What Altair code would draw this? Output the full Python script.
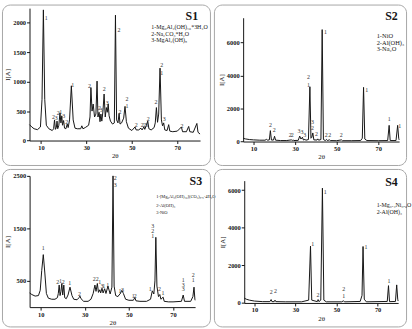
import altair as alt
import pandas as pd

SERIF = "Liberation Serif"
INK = "#151515"

# ---------------- S1 ----------------
s1_theta = [5.0, 6.0, 7.0, 8.5, 9.8, 10.5, 11.1, 11.7, 12.4, 13.5, 15.0, 15.6, 16.0, 16.4, 16.8,
            17.1, 17.4, 17.9, 18.4, 18.8, 19.2, 19.5, 20.0, 20.4, 21.0, 21.6, 22.0, 22.6, 23.4,
            24.2, 25.0, 26.0, 27.5, 28.0, 28.5, 29.5, 31.0, 31.6, 32.0, 32.5, 33.0, 33.6, 34.2,
            34.7, 35.1, 35.6, 36.0, 36.4, 36.8, 37.3, 37.8, 38.3, 38.8, 39.2, 39.6, 40.0, 40.6,
            41.5, 42.3, 42.8, 43.3, 43.9, 44.4, 44.8, 45.5, 46.4, 47.0, 47.6, 48.5, 50.0, 51.4,
            51.9, 53.0, 54.0, 54.5, 55.3, 55.7, 56.4, 57.0, 57.5, 58.5, 59.8, 60.3, 60.8, 61.3,
            61.8, 62.4, 63.0, 63.5, 64.0, 64.5, 65.5, 66.2, 66.7, 68.0, 70.0, 71.8, 72.3, 74.0,
            75.0, 75.5, 77.0, 78.6, 79.1, 80.0]
s1_counts = [270, 230, 200, 185, 230, 700, 2220, 700, 260, 200, 170, 200, 350, 190, 220,
             330, 200, 260, 470, 300, 420, 260, 340, 210, 200, 280, 220, 350, 930,
             350, 210, 200, 200, 250, 200, 220, 260, 400, 900, 500, 620, 400, 450,
             1010, 400, 480, 320, 450, 330, 500, 790, 400, 560, 480, 620, 420, 330,
             280, 300, 2130, 350, 300, 460, 280, 300, 380, 580, 320, 210, 170, 230,
             180, 180, 210, 180, 230, 190, 260, 330, 200, 180, 220, 300, 560, 310,
             450, 1230, 350, 250, 300, 180, 170, 270, 160, 150, 160, 230, 150, 150,
             240, 150, 140, 290, 140, 110]
s1_lab_theta = [12.3, 31.4, 24.0, 15.5, 16.7, 17.6, 18.7, 20.0, 21.4, 35.8, 36.5, 37.9, 39.2,
                44.3, 44.8, 47.9, 47.9, 51.9, 54.6, 55.6, 56.4, 57.2, 60.6, 63.1, 63.1, 64.2, 72.0]
s1_lab_counts = [2080, 920, 940, 400, 380, 470, 490, 410, 310, 560, 510, 880, 640,
                 1870, 480, 700, 580, 260, 270, 270, 270, 370, 650, 1290, 1150, 360, 250]
s1_lab_phase = ["1", "2", "1", "2", "3", "2", "1", "3", "2", "2", "3", "2", "3",
                "2", "2", "2", "1", "2", "2", "2", "3", "2", "2", "2", "1", "3", "2"]
s1_legend = ["1-Mg₆Al₂(OH)₁₆*3H₂O", "2-Na₂CO₃*H₂O", "3-MgAl₂(OH)₈"]

# ---------------- S2 ----------------
s2_theta = [5.0, 6.0, 8.0, 10.0, 13.0, 15.5, 16.3, 16.8, 17.6, 18.1, 18.6, 19.6, 20.1, 20.6,
            23.0, 26.0, 28.2, 28.6, 29.0, 29.4, 31.5, 32.2, 32.8, 33.5, 34.0, 34.7, 35.2, 36.4,
            37.1, 37.6, 38.0, 38.5, 39.0, 40.5, 40.9, 41.3, 42.4, 43.0, 43.6, 44.5, 45.1, 45.5,
            46.5, 46.9, 50.0, 52.3, 52.7, 57.0, 61.5, 62.3, 62.9, 63.5, 64.5, 70.0, 74.5, 75.2,
            75.7, 78.5, 79.3, 79.8, 80.0]
s2_counts = [200, 160, 120, 100, 80, 80, 130, 80, 100, 660, 90, 90, 320, 80,
             60, 60, 100, 60, 100, 60, 70, 330, 150, 260, 90, 130, 80, 120,
             3320, 200, 250, 520, 100, 90, 160, 80, 120, 6780, 120, 60, 130, 60,
             100, 60, 50, 100, 50, 50, 60, 200, 3280, 150, 60, 50, 60, 980,
             60, 60, 980, 200, 100]
s2_lab_theta = [18.1, 20.0, 27.6, 28.6, 31.9, 33.3, 34.6, 36.4, 36.4, 38.4, 38.4, 40.3,
                44.6, 45.0, 46.6, 52.2, 64.4, 75.2, 80.3]
s2_lab_counts = [1000, 720, 400, 400, 640, 580, 420, 3900, 3440, 1200, 820, 440,
                 6620, 420, 400, 420, 3120, 1380, 950]
s2_lab_phase = ["2", "2", "2", "2", "3", "3", "3", "2", "1", "3", "2", "2",
                "1", "2", "2", "2", "1", "1", "1"]
s2_legend = ["1-NiO", "2-Al(OH)₃", "3-Na₂O"]

# ---------------- S3 ----------------
s3_theta = [5.0, 6.0, 7.5, 9.0, 9.8, 10.5, 11.2, 11.9, 12.6, 13.5, 15.0, 16.5, 17.6, 18.0,
            18.4, 18.8, 19.2, 19.6, 20.0, 20.5, 20.9, 21.6, 22.4, 23.3, 24.2, 25.0, 26.5, 27.4,
            27.8, 28.3, 29.5, 31.5, 32.8, 33.8, 34.6, 35.1, 35.7, 36.2, 36.8, 37.2, 37.8, 38.3,
            39.0, 39.6, 40.5, 41.5, 42.3, 42.8, 43.3, 44.0, 45.0, 45.5, 46.0, 46.8, 47.5, 48.5,
            50.0, 52.0, 52.7, 53.2, 55.0, 58.0, 59.8, 60.6, 61.3, 61.8, 62.2, 62.7, 63.4, 64.0,
            64.5, 65.5, 66.0, 68.0, 70.0, 73.8, 74.6, 75.2, 78.0, 79.0, 79.5, 79.9, 80.0]
s3_counts = [270, 240, 210, 220, 320, 700, 1000, 650, 260, 170, 150, 150, 180, 260,
             420, 220, 300, 450, 230, 420, 180, 160, 230, 380, 220, 150, 140, 180,
             210, 160, 110, 110, 150, 260, 420, 300, 450, 280, 330, 270, 360, 270,
             350, 260, 400, 250, 380, 2500, 400, 220, 200, 230, 250, 320, 260, 150,
             130, 130, 180, 120, 110, 110, 150, 310, 250, 500, 1330, 400, 200, 240,
             150, 190, 110, 100, 100, 110, 230, 110, 110, 200, 380, 150, 130]
s3_lab_theta = [11.2, 17.8, 19.0, 20.2, 23.2, 27.6, 34.3, 35.6, 36.8, 37.8, 38.6, 40.4,
                43.8, 43.8, 45.9, 47.1, 52.0, 52.9, 59.7, 60.8, 60.8, 60.8, 63.9, 65.4,
                74.6, 74.6, 74.6, 79.2, 79.2]
s3_lab_counts = [1120, 470, 500, 480, 460, 250, 530, 540, 470, 400, 400, 420,
                 2450, 2320, 310, 320, 220, 220, 340, 1550, 1450, 1350, 340, 260,
                 520, 430, 340, 620, 520]
s3_lab_phase = ["1", "2", "1", "2", "1", "2", "2", "2", "1", "3", "1", "1",
                "2", "3", "1", "3", "1", "2", "1", "3", "2", "1", "2", "1",
                "1", "3", "3", "2", "1"]
s3_legend = ["1-[Mg₆Al₂(OH)₁₆](CO₃)₀.₅·4H₂O", "2-Al(OH)₃", "3-NiO"]

# ---------------- S4 ----------------
s4_theta = [5.0, 6.0, 7.5, 10.0, 14.0, 17.5, 18.1, 18.5, 19.6, 20.0, 20.4, 25.0, 33.0, 36.4,
            37.3, 37.9, 40.6, 41.0, 41.4, 42.3, 43.1, 43.8, 45.0, 52.5, 53.3, 54.0, 61.5, 62.4,
            62.9, 63.5, 64.5, 74.7, 75.3, 75.8, 78.7, 79.3, 79.8, 80.0]
s4_counts = [260, 200, 150, 100, 70, 70, 180, 70, 70, 150, 70, 60, 60, 150,
             3020, 150, 70, 180, 70, 150, 6100, 150, 60, 60, 110, 60, 80, 400,
             3000, 200, 60, 80, 920, 70, 80, 960, 200, 100]
s4_lab_theta = [18.1, 20.2, 38.4, 41.0, 44.5, 53.5, 53.5, 64.3, 75.6]
s4_lab_counts = [560, 610, 3140, 400, 5910, 750, 380, 2980, 1170]
s4_lab_phase = ["2", "2", "1", "2", "1", "2", "1", "1", "1"]
s4_legend = ["1-Mg₀.₄Ni₀.₆O", "2-Al(OH)₃"]


def text_at(txt, px, py, size, weight="normal", align="left"):
    return alt.Chart(pd.DataFrame({"s": [txt]})).mark_text(
        x=px, y=py, font=SERIF, fontSize=size, fontWeight=weight,
        align=align, baseline="middle"
    ).encode(text="s:N", color=alt.value(INK))


def panel(theta, counts, lab_t, lab_c, lab_p, y_top, y_ticks, w, h, x_rng, y_rng,
          name, name_xy, legend, legend_x, legend_ys, legend_size):
    x_enc = alt.X(
        "theta:Q",
        scale=alt.Scale(domain=[5, 80], range=list(x_rng), nice=False, zero=False),
        axis=alt.Axis(values=list(range(10, 81, 10)), offset=-(h - y_rng[0]),
                      title="2θ", titlePadding=1, labelColor=INK, titleColor=INK),
    )
    y_enc = alt.Y(
        "counts:Q",
        scale=alt.Scale(domain=[0, y_top], range=list(y_rng), nice=False, zero=False),
        axis=alt.Axis(values=y_ticks, offset=-x_rng[0], title="I[A]", titlePadding=2,
                      format="d", labelColor=INK, titleColor=INK),
    )
    line = alt.Chart(pd.DataFrame({"theta": theta, "counts": counts})).mark_line(
        strokeWidth=1.0
    ).encode(x=x_enc, y=y_enc, order="theta:Q", color=alt.value(INK))
    labels = alt.Chart(
        pd.DataFrame({"theta": lab_t, "counts": lab_c, "phase": lab_p})
    ).mark_text(font=SERIF, fontSize=6, baseline="middle").encode(
        x="theta:Q", y="counts:Q", text="phase:N", color=alt.value("#333333")
    )
    layers = [line, labels, text_at(name, name_xy[0], name_xy[1], 12, "bold", "center")]
    for txt, ly in zip(legend, legend_ys):
        layers.append(text_at(txt, legend_x, ly, legend_size))
    return alt.layer(*layers).properties(width=w, height=h)


p1 = panel(s1_theta, s1_counts, s1_lab_theta, s1_lab_counts, s1_lab_phase,
           2250, [0, 500, 1000, 1500, 2000], 210, 162, (27.8, 200), (137.3, 3.6),
           "S1", (191.7, 12), s1_legend, 150.7, [23, 29.7, 36.3], 6)
p2 = panel(s2_theta, s2_counts, s2_lab_theta, s2_lab_counts, s2_lab_phase,
           7500, list(range(0, 7001, 1000)), 194, 162, (29.5, 187), (138.3, 13.3),
           "S2", (179.3, 11.3), s2_legend, 164.3, [32, 38.7, 45.3], 6.5)
p3 = panel(s3_theta, s3_counts, s3_lab_theta, s3_lab_counts, s3_lab_phase,
           2500, [500, 1000, 1500, 2000, 2500], 210, 159, (27.9, 195), (139.5, 7),
           "S3", (195.7, 12), s3_legend, 155.7, [28.7, 37, 44.7], 4.5)
p4 = panel(s4_theta, s4_counts, s4_lab_theta, s4_lab_counts, s4_lab_phase,
           6500, list(range(0, 6001, 1000)), 194, 159, (30.6, 186), (135.3, 11.8),
           "S4", (179.3, 13.7), s4_legend, 164.3, [36.3, 43], 6)

chart = alt.concat(p1, p2, p3, p4, columns=2, spacing=4, bounds="flush").properties(
    padding={"left": 1, "top": 2, "right": 0, "bottom": 0}
).configure_view(
    stroke="#a6a6a6", strokeWidth=1, cornerRadius=8
).configure_axis(
    grid=False, domainColor=INK, tickColor=INK, tickSize=3,
    labelFont=SERIF, labelFontSize=6.5, labelFontWeight="bold", labelPadding=1,
    titleFont=SERIF, titleFontSize=7, titleFontWeight="normal",
)

chart.save("out.html", embed_options={"renderer": "svg", "actions": False})
